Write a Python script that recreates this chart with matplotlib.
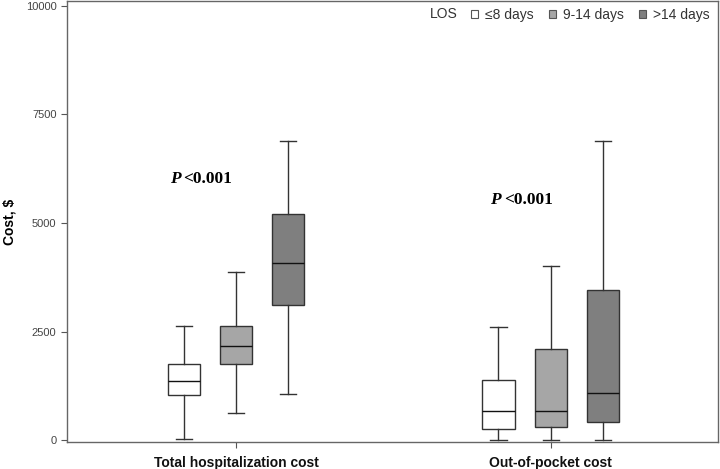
import matplotlib
matplotlib.use("Agg")
import matplotlib.pyplot as plt
from matplotlib.patches import Patch

plt.rcParams['font.family'] = ['Liberation Sans', 'DejaVu Sans']

categories = ["Total hospitalization cost", "Out-of-pocket cost"]
groups = ["\u22648 days", "9-14 days", ">14 days"]
colors = ["#ffffff", "#a6a6a6", "#7f7f7f"]

# whisker low, Q1, median, Q3, whisker high  (per category, per LOS group)
total_cost = [
    [35, 1040, 1361, 1752, 2640],
    [626, 1752, 2173, 2633, 3882],
    [1062, 3116, 4075, 5216, 6895],
]
oop_cost = [
    [10, 272, 686, 1399, 2618],
    [10, 318, 686, 2105, 4007],
    [0, 426, 1100, 3461, 6895],
]
p_labels = ["<0.001", "<0.001"]

fig = plt.figure(figsize=(7.2, 4.69), dpi=100)
ax = fig.add_axes([0.093, 0.0576, 0.904, 0.9404])

offset = 0.1656
width = 0.102
edge = "#333333"

stats = []
for ci, data in enumerate([total_cost, oop_cost]):
    for gi, v in enumerate(data):
        stats.append(dict(whislo=v[0], q1=v[1], med=v[2], q3=v[3], whishi=v[4],
                          pos=ci + 1 + (gi - 1) * offset, color=colors[gi]))

for s in stats:
    ax.bxp([s], positions=[s["pos"]], widths=width, showfliers=False,
           patch_artist=True,
           boxprops=dict(facecolor=s["color"], edgecolor=edge, linewidth=1),
           medianprops=dict(color="#111111", linewidth=1),
           whiskerprops=dict(color=edge, linewidth=1),
           capprops=dict(color=edge, linewidth=1),
           capwidths=width / 2, manage_ticks=False)

ax.set_xlim(0.462, 2.532)
ax.set_ylim(-35, 10108)
ax.set_yticks([0, 2500, 5000, 7500, 10000])
ax.set_xticks([1, 2])
ax.set_xticklabels(categories, fontsize=10, fontweight="bold", color="#111111")
ax.tick_params(axis="y", labelsize=8, labelcolor="#444444", color="#555555", length=4)
ax.tick_params(axis="x", color="#555555", length=4, pad=6)
for sp in ax.spines.values():
    sp.set_color("#666666")
    sp.set_linewidth(1)
ax.set_ylabel("Cost, $", fontsize=10, fontweight="bold", va="center")
ax.yaxis.set_label_coords(-0.088, 0.5)

# P value annotations
for x, y, lab in [(0.79, 6014, p_labels[0]), (1.809, 5531, p_labels[1])]:
    ax.text(x, y, "P", fontfamily="Liberation Serif", fontweight="bold",
            fontstyle="italic", fontsize=12.5, va="center", ha="left")
    ax.text(x + 0.043, y, lab, fontfamily="Liberation Serif", fontweight="bold",
            fontsize=12.5, va="center", ha="left")

handles = [Patch(facecolor=c, edgecolor="#555555", linewidth=0.8) for c in colors]
leg = ax.legend(handles, groups, ncol=3, loc="upper right", frameon=False,
                fontsize=10, handlelength=0.5, handleheight=0.5, handletextpad=0.5,
                columnspacing=1.1, bbox_to_anchor=(1.006, 1.012))
for t in leg.get_texts():
    t.set_color("#333333")
ax.text(0.558, 0.97, "LOS", transform=ax.transAxes, fontsize=10,
        color="#333333", va="center", ha="left")

fig.savefig("out.png", dpi=100)
